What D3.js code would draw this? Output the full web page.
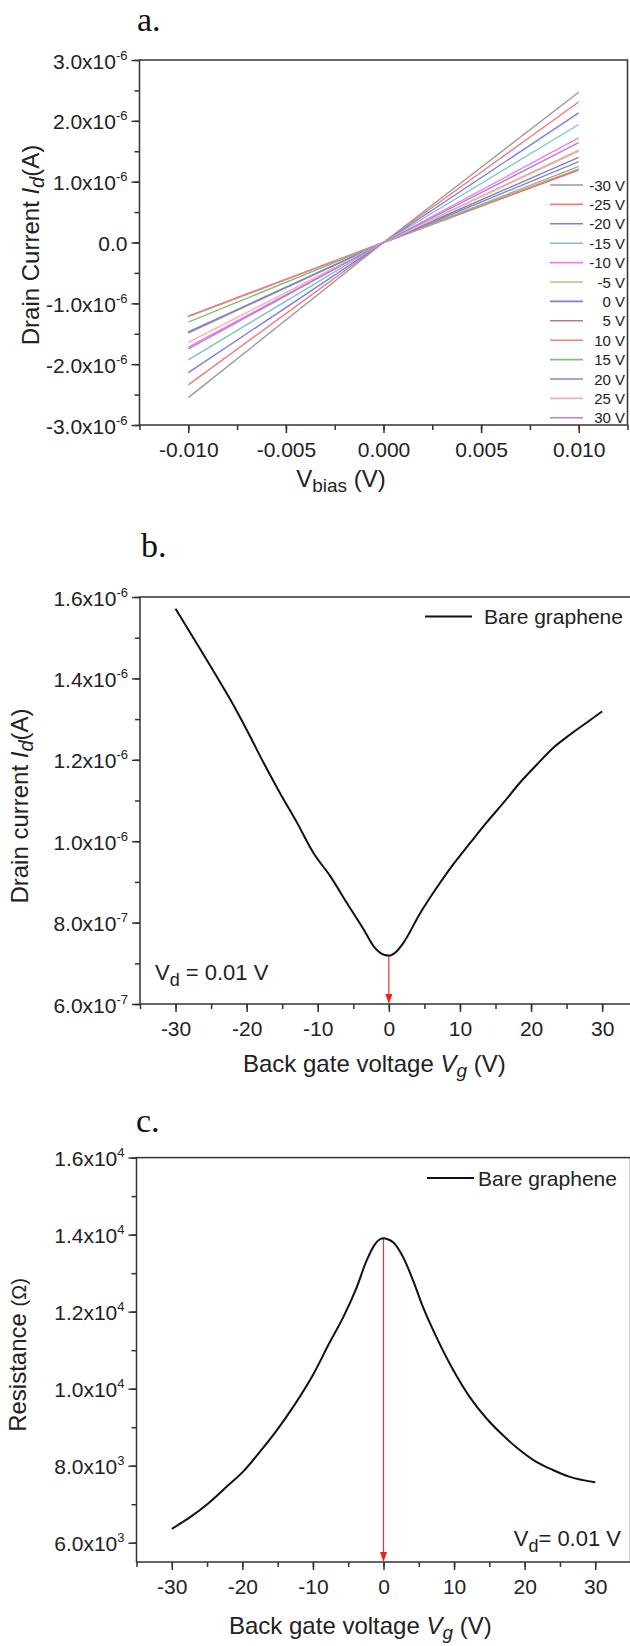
<!DOCTYPE html>
<html>
<head>
<meta charset="utf-8">
<script src="https://cdn.jsdelivr.net/npm/d3@7"></script>
<style>
    body { margin: 0; background: #fff; }
    svg { display: block; font-family: "Liberation Sans", Arial, sans-serif; }
</style>
</head>
<body>
<svg id="fig" width="630" height="1646"></svg>
<script>
// a. Id-Vbias sweeps for each gate step (A at -10 mV, 0, +10 mV)
const biasV = [-0.010, 0, 0.010];
const gateSteps = ["-30 V", "-25 V", "-20 V", "-15 V", "-10 V", "-5 V", "0 V", "5 V", "10 V", "15 V", "20 V", "25 V", "30 V"];
const idBias = [
    [-2.55e-6, 0, 2.47e-6],
    [-2.34e-6, 0, 2.31e-6],
    [-2.14e-6, 0, 2.13e-6],
    [-1.93e-6, 0, 1.94e-6],
    [-1.72e-6, 0, 1.72e-6],
    [-1.49e-6, 0, 1.52e-6],
    [-1.47e-6, 0, 1.40e-6],
    [-1.21e-6, 0, 1.19e-6],
    [-1.22e-6, 0, 1.21e-6],
    [-1.31e-6, 0, 1.25e-6],
    [-1.48e-6, 0, 1.33e-6],
    [-1.64e-6, 0, 1.50e-6],
    [-1.75e-6, 0, 1.64e-6]
];
const stepColors = ["#9a9a9a", "#f27a7a", "#7a7af2", "#7fc4c4", "#f07af0", "#bdbd80", "#7f7fc8",
    "#b87a7a", "#f58080", "#80bf80", "#8585d0", "#f7b0b0", "#b77fd9"];

// b. transfer curve, Vd = 0.01 V
const gateVb = [-30, -26.5, -24.4, -22.3, -20, -17.6, -15.3, -12.9, -10.6, -8.2, -5.9, -3.5, -2.1, -0.7, 0,
    1.0, 2.0, 4.4, 6.7, 9.0, 11.4, 13.7, 16.1, 18.4, 20.8, 23.1, 25.5, 27.8, 30];
const drainB = [1.571, 1.471, 1.410, 1.348, 1.274, 1.192, 1.118, 1.045, 0.971, 0.913, 0.848, 0.782, 0.741, 0.721, 0.719,
    0.728, 0.749, 0.823, 0.885, 0.942, 0.995, 1.045, 1.094, 1.143, 1.188, 1.229, 1.262, 1.291, 1.319].map(d => d * 1e-6);

// c. resistance vs gate voltage
const gateVc = [-30, -27.4, -24.8, -22.2, -19.9, -17.5, -15.1, -12.8, -9.9, -7.6, -5.7, -3.8, -2.4, -1.2, -0.5, 0,
    0.6, 1.4, 2.8, 4.2, 5.6, 7.5, 9.9, 12.2, 14.6, 16.9, 19.3, 21.6, 24.0, 26.3, 30];
const resistC = [6362, 6664, 7027, 7458, 7846, 8364, 8924, 9528, 10390, 11210, 11857, 12633, 13323, 13754, 13880, 13909,
    13880, 13797, 13409, 12805, 12115, 11339, 10477, 9787, 9226, 8795, 8407, 8105, 7889, 7717, 7570];

const svg = d3.select("#fig");
const ink = "#333";
const hy = s => s.replace("\u2212", "-");

// tick label like 3.0x10^-6
function sciLabel(text, v) {
    text.text(null);
    if (Math.abs(v) < 1e-20) {
        text.append("tspan").text("0.0");
        return;
    }
    const e = Math.floor(Math.log10(Math.abs(v)) + 1e-9);
    const m = v / Math.pow(10, e);
    text.append("tspan").text(m.toFixed(1) + "x10");
    text.append("tspan").attr("font-size", 13).attr("dy", -9).text(e);
}

function drawFrame(x, y, p) {
    const g = svg.append("g");
    const [x0, x1] = x.range();
    const [y0, y1] = y.range();

    // minor ticks
    g.append("g").attr("transform", `translate(0,${y0})`)
        .call(d3.axisBottom(x).tickValues(p.xMinor).tickSize(5).tickFormat(""));
    g.append("g").attr("transform", `translate(${x0},0)`)
        .call(d3.axisLeft(y).tickValues(p.yMinor).tickSize(5).tickFormat(""));

    // major ticks + labels
    const xa = g.append("g").attr("transform", `translate(0,${y0})`)
        .call(d3.axisBottom(x).tickValues(p.xTicks).tickSize(8).tickPadding(9).tickFormat(p.xFormat));
    xa.selectAll("text").attr("font-size", 21).attr("fill", "#222").attr("font-family", "Liberation Sans, Arial, sans-serif");

    const ya = g.append("g").attr("transform", `translate(${x0},0)`)
        .call(d3.axisLeft(y).tickValues(p.yTicks).tickSize(8).tickPadding(4));
    ya.selectAll("text")
        .attr("font-size", 21).attr("fill", "#222").attr("dy", 8)
        .attr("font-family", "Liberation Sans, Arial, sans-serif")
        .each(function (d) { sciLabel(d3.select(this), d); });

    g.selectAll(".domain").remove();
    g.selectAll(".tick line").attr("stroke", ink).attr("stroke-width", 1.5);

    g.append("rect")
        .attr("x", x0).attr("y", y1)
        .attr("width", x1 - x0).attr("height", y0 - y1)
        .attr("fill", "none").attr("stroke", ink).attr("stroke-width", 1.5);
}

function panelTitle(label, px, py) {
    svg.append("text").attr("x", px).attr("y", py)
        .attr("font-family", "Liberation Serif, Times New Roman, serif")
        .attr("font-size", 34).attr("fill", "#111").text(label);
}

function yLabel(cx, cy, parts) {
    const t = svg.append("text")
        .attr("transform", `translate(${cx},${cy}) rotate(-90)`)
        .attr("text-anchor", "middle").attr("font-size", 24).attr("fill", "#222");
    parts(t);
}

function redArrow(x, y, vx, vy) {
    const px = x(vx), top = y(vy), bot = y.range()[0];
    svg.append("line").attr("x1", px).attr("x2", px).attr("y1", top).attr("y2", bot - 6)
        .attr("stroke", "#f03030").attr("stroke-width", 1.2);
    svg.append("path")
        .attr("d", `M${px - 3.5},${bot - 10}L${px + 3.5},${bot - 10}L${px},${bot}Z`)
        .attr("fill", "#f02020");
}

// ---------- panel a ----------
const xA = d3.scaleLinear().domain([-0.0125, 0.0125]).range([139.5, 627.5]);
const yA = d3.scaleLinear().domain([-3e-6, 3e-6]).range([425, 60]);

panelTitle("a.", 137, 31);
drawFrame(xA, yA, {
    xTicks: [-0.010, -0.005, 0, 0.005, 0.010],
    xMinor: d3.range(-5, 6).map(k => k * 0.0025),
    xFormat: d => hy(d3.format(".3f")(d)),
    yTicks: d3.range(-3, 4).map(k => k * 1e-6),
    yMinor: d3.range(-6, 7).map(k => k * 0.5e-6)
});

const lineA = d3.line().x((d, i) => xA(biasV[i])).y(d => yA(d));
svg.append("g").selectAll("path")
    .data(idBias)
    .join("path")
    .attr("d", lineA)
    .attr("fill", "none")
    .attr("stroke", (d, i) => stepColors[i])
    .attr("stroke-width", 1.4);

const legA = svg.append("g").selectAll("g")
    .data(gateSteps)
    .join("g")
    .attr("transform", (d, i) => `translate(0,${185 + i * 19.4})`);
legA.append("line").attr("x1", 550).attr("x2", 583)
    .attr("stroke", (d, i) => stepColors[i]).attr("stroke-width", 1.6);
legA.append("text").attr("x", 625).attr("y", 5.5)
    .attr("text-anchor", "end").attr("font-size", 15).attr("fill", "#222")
    .text(d => d);

yLabel(39, 245, t => {
    t.append("tspan").text("Drain Current ");
    t.append("tspan").attr("font-style", "italic").text("I");
    t.append("tspan").attr("font-style", "italic").attr("font-size", 20).attr("dy", 5).text("d");
    t.append("tspan").attr("dy", -5).text("(A)");
});

const xlA = svg.append("text").attr("x", 341).attr("y", 487)
    .attr("text-anchor", "middle").attr("font-size", 24).attr("fill", "#222");
xlA.append("tspan").text("V");
xlA.append("tspan").attr("font-size", 19).attr("dy", 5).text("bias");
xlA.append("tspan").attr("dy", -5).text(" (V)");

// ---------- panel b ----------
const xB = d3.scaleLinear().domain([-35, 35]).range([140, 637.7]);
const yB = d3.scaleLinear().domain([6e-7, 1.6e-6]).range([1004, 597]);

panelTitle("b.", 141, 557);
drawFrame(xB, yB, {
    xTicks: d3.range(-30, 31, 10),
    xMinor: d3.range(-35, 36, 5),
    xFormat: d => hy(d3.format("d")(d)),
    yTicks: d3.range(6, 17, 2).map(k => k * 1e-7),
    yMinor: d3.range(6, 17).map(k => k * 1e-7)
});

redArrow(xB, yB, 0, d3.min(drainB));

svg.append("path")
    .datum(gateVb.map((v, i) => [v, drainB[i]]))
    .attr("d", d3.line().x(d => xB(d[0])).y(d => yB(d[1])).curve(d3.curveMonotoneX))
    .attr("fill", "none").attr("stroke", "#111").attr("stroke-width", 2);

svg.append("line").attr("x1", 425).attr("x2", 472).attr("y1", 616.5).attr("y2", 616.5)
    .attr("stroke", "#111").attr("stroke-width", 2);
svg.append("text").attr("x", 484).attr("y", 624).attr("font-size", 21).attr("fill", "#222").text("Bare graphene");

const vdB = svg.append("text").attr("x", 155).attr("y", 980).attr("font-size", 22).attr("fill", "#222");
vdB.append("tspan").text("V");
vdB.append("tspan").attr("font-size", 18).attr("dy", 6).text("d");
vdB.append("tspan").attr("dy", -6).text(" = 0.01 V");

yLabel(28, 806, t => {
    t.append("tspan").text("Drain current ");
    t.append("tspan").attr("font-style", "italic").text("I");
    t.append("tspan").attr("font-style", "italic").attr("font-size", 20).attr("dy", 5).text("d");
    t.append("tspan").attr("dy", -5).text("(A)");
});

const xlB = svg.append("text").attr("x", 243).attr("y", 1072).attr("font-size", 24).attr("fill", "#222");
xlB.append("tspan").text("Back gate voltage  ");
xlB.append("tspan").attr("font-style", "italic").text("V");
xlB.append("tspan").attr("font-style", "italic").attr("font-size", 19).attr("dy", 5).text("g");
xlB.append("tspan").attr("dy", -5).text(" (V)");

// ---------- panel c ----------
const xC = d3.scaleLinear().domain([-35, 35]).range([136.5, 630.5]);
const yC = d3.scaleLinear().domain([5500, 16000]).range([1562, 1157.6]);

panelTitle("c.", 136, 1132);
drawFrame(xC, yC, {
    xTicks: d3.range(-30, 31, 10),
    xMinor: d3.range(-35, 36, 5),
    xFormat: d => hy(d3.format("d")(d)),
    yTicks: d3.range(6000, 16001, 2000),
    yMinor: d3.range(6000, 16001, 1000)
});

redArrow(xC, yC, 0, d3.max(resistC));

svg.append("path")
    .datum(gateVc.map((v, i) => [v, resistC[i]]))
    .attr("d", d3.line().x(d => xC(d[0])).y(d => yC(d[1])).curve(d3.curveMonotoneX))
    .attr("fill", "none").attr("stroke", "#111").attr("stroke-width", 2);

svg.append("line").attr("x1", 427).attr("x2", 474).attr("y1", 1178).attr("y2", 1178)
    .attr("stroke", "#111").attr("stroke-width", 2);
svg.append("text").attr("x", 478).attr("y", 1185.5).attr("font-size", 21).attr("fill", "#222").text("Bare graphene");

const vdC = svg.append("text").attr("x", 621).attr("y", 1546).attr("text-anchor", "end")
    .attr("font-size", 22).attr("fill", "#222");
vdC.append("tspan").text("V");
vdC.append("tspan").attr("font-size", 18).attr("dy", 6).text("d");
vdC.append("tspan").attr("dy", -6).text("= 0.01 V");

yLabel(26, 1355, t => {
    t.append("tspan").text("Resistance ");
    t.append("tspan").attr("font-size", 20).text("(\u03A9)");
});

const xlC = svg.append("text").attr("x", 229).attr("y", 1634).attr("font-size", 24).attr("fill", "#222");
xlC.append("tspan").text("Back gate voltage  ");
xlC.append("tspan").attr("font-style", "italic").text("V");
xlC.append("tspan").attr("font-style", "italic").attr("font-size", 19).attr("dy", 5).text("g");
xlC.append("tspan").attr("dy", -5).text(" (V)");
</script>
</body>
</html>
